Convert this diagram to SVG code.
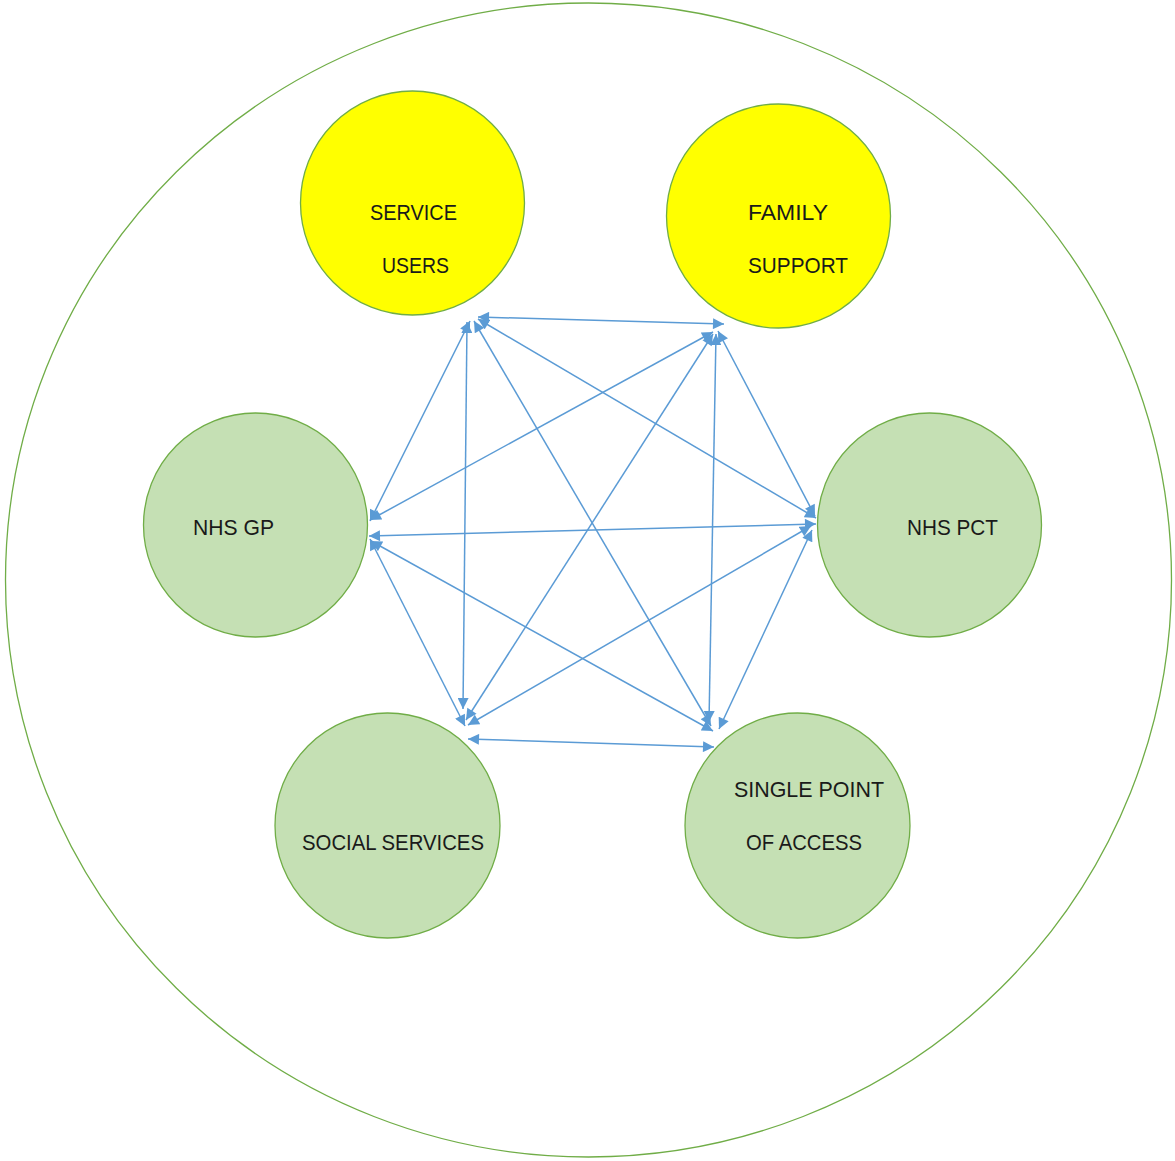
<svg xmlns="http://www.w3.org/2000/svg" width="1175" height="1161" viewBox="0 0 1175 1161">
<style>
.outer{fill:none;stroke:#70AD47;stroke-width:1.3}
.yel{fill:#FFFF00;stroke:#70AD47;stroke-width:1.3}
.grn{fill:#C5E0B4;stroke:#70AD47;stroke-width:1.3}
.lbl{font-family:"Liberation Sans",Arial,sans-serif;font-size:22px;fill:#1a1a1a}
.con line{stroke:#5B9BD5;stroke-width:1.5;marker-start:url(#ah);marker-end:url(#ah)}
</style>
<defs>
<marker id="ah" viewBox="0 0 10 10" refX="10" refY="5" markerWidth="12" markerHeight="11" markerUnits="userSpaceOnUse" orient="auto-start-reverse">
<path d="M0,0 L10,5 L0,10 z" fill="#5B9BD5"/>
</marker>
</defs>
<ellipse class="outer" cx="588.5" cy="580" rx="583" ry="577"/>
<g id="service-users"><circle class="yel" cx="412.5" cy="203" r="112"/>
<text class="lbl" x="370" y="220" textLength="87" lengthAdjust="spacingAndGlyphs">SERVICE</text>
<text class="lbl" x="382" y="273" textLength="67" lengthAdjust="spacingAndGlyphs">USERS</text></g>
<g id="family-support"><circle class="yel" cx="778.5" cy="216" r="112"/>
<text class="lbl" x="748" y="220" textLength="80" lengthAdjust="spacingAndGlyphs">FAMILY</text>
<text class="lbl" x="748" y="273" textLength="100" lengthAdjust="spacingAndGlyphs">SUPPORT</text></g>
<g id="nhs-gp"><circle class="grn" cx="255.5" cy="525" r="112"/>
<text class="lbl" x="193" y="535" textLength="81" lengthAdjust="spacingAndGlyphs">NHS GP</text></g>
<g id="nhs-pct"><circle class="grn" cx="929.5" cy="525" r="112"/>
<text class="lbl" x="907" y="535" textLength="91" lengthAdjust="spacingAndGlyphs">NHS PCT</text></g>
<g id="social-services"><circle class="grn" cx="387.5" cy="825.5" r="112.5"/>
<text class="lbl" x="302" y="850" textLength="182" lengthAdjust="spacingAndGlyphs">SOCIAL SERVICES</text></g>
<g id="single-point"><circle class="grn" cx="797.5" cy="825.5" r="112.5"/>
<text class="lbl" x="734" y="797" textLength="150" lengthAdjust="spacingAndGlyphs">SINGLE POINT</text>
<text class="lbl" x="746" y="850" textLength="116" lengthAdjust="spacingAndGlyphs">OF ACCESS</text></g>
<g id="connectors" class="con">
<line x1="478" y1="317" x2="724" y2="324"/>
<line x1="470" y1="321" x2="370" y2="521"/>
<line x1="478" y1="319" x2="816" y2="518"/>
<line x1="467" y1="322" x2="463" y2="709"/>
<line x1="474" y1="321" x2="711" y2="726"/>
<line x1="713" y1="332" x2="370" y2="520"/>
<line x1="718" y1="331" x2="815" y2="516"/>
<line x1="713" y1="334" x2="466" y2="720"/>
<line x1="716" y1="334" x2="709" y2="722"/>
<line x1="369" y1="536" x2="816" y2="524"/>
<line x1="370" y1="539" x2="465" y2="726"/>
<line x1="371" y1="541" x2="713" y2="731"/>
<line x1="811" y1="526" x2="468" y2="725"/>
<line x1="812" y1="530" x2="719" y2="729"/>
<line x1="468" y1="739" x2="714" y2="747"/>
</g>
</svg>
